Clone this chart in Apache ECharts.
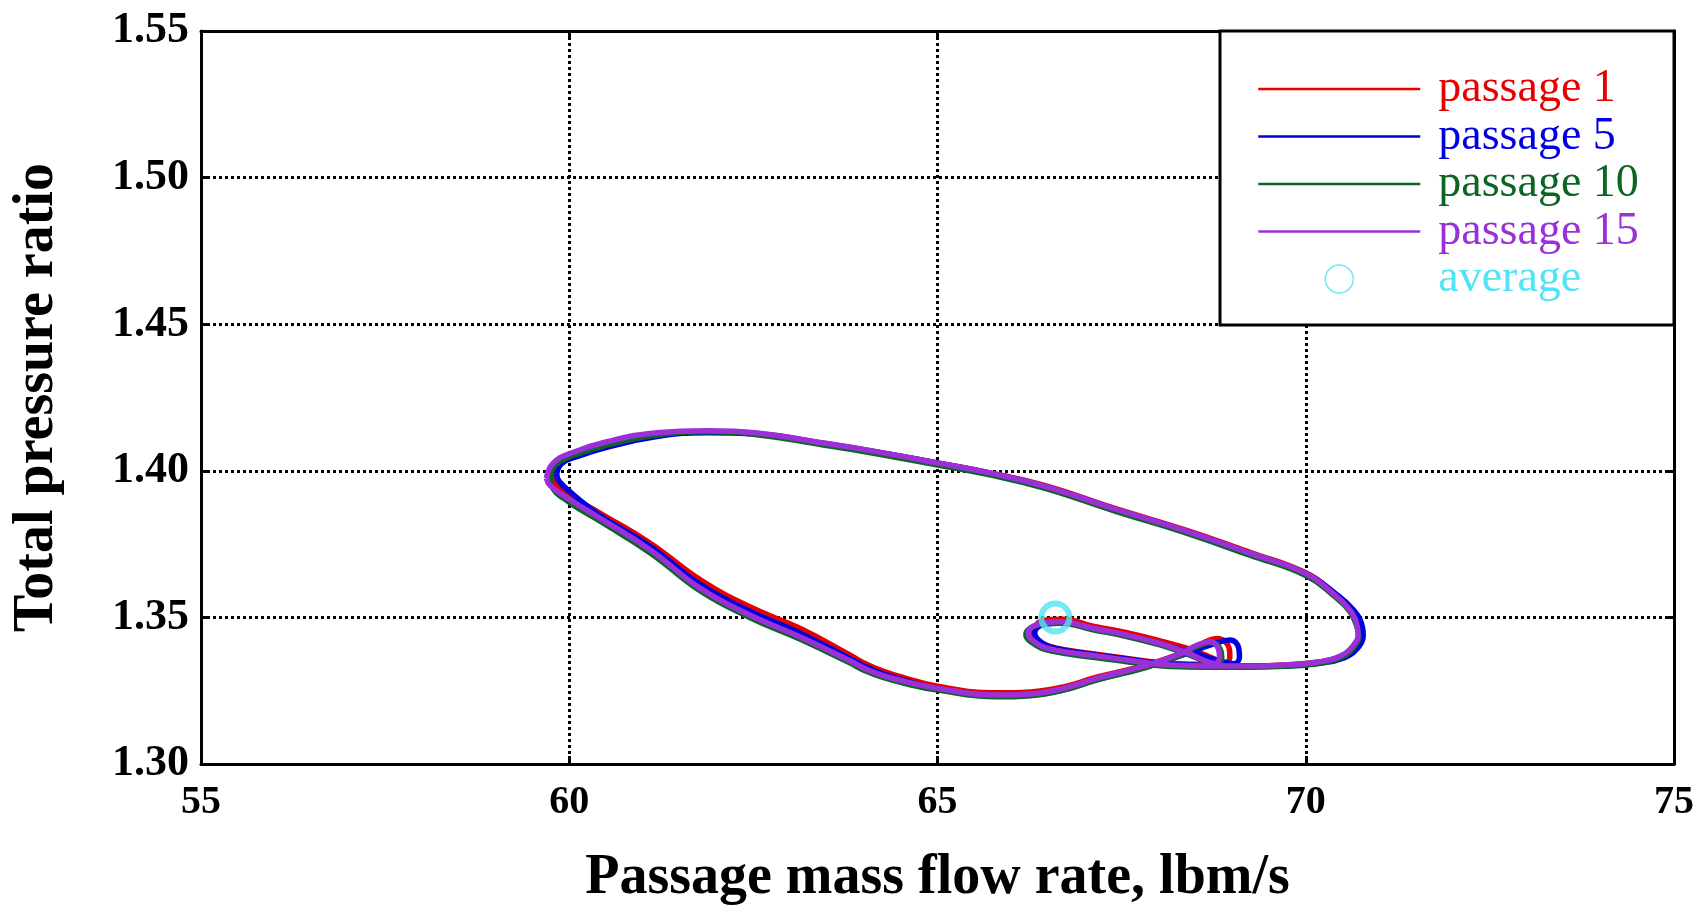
<!DOCTYPE html>
<html>
<head>
<meta charset="utf-8">
<script src="https://cdn.jsdelivr.net/npm/echarts@6/dist/echarts.min.js"></script>
<style>
html,body{margin:0;padding:0;background:#fff;}
#chart{width:1693px;height:906px;}
</style>
</head>
<body>
<div id="chart"></div>
<script>
// ---- data ----
const xTicks = [55, 60, 65, 70, 75];
const yTicks = [1.30, 1.35, 1.40, 1.45, 1.50, 1.55];

const p1x = [59.78,59.84,60.05,60.53,61.20,61.87,62.55,63.45,64.13,65.00,65.71,66.45,67.43,68.34,69.24,70.00,70.38,70.62,70.72,70.73,70.67,70.49,70.15,69.70,69.24,68.95,68.50,68.02,67.57,67.11,66.60,66.40,66.30,66.45,66.70,67.11,67.57,68.02,68.45,68.75,68.90,68.97,68.96,68.80,68.60,68.32,67.84,67.16,66.71,66.26,65.80,65.00,64.55,64.25,64.00,63.81,63.13,62.45,61.78,61.10,60.42,60.05,59.82,59.78];
const p1y = [1.3985,1.4022,1.4052,1.4092,1.4125,1.4133,1.4127,1.4094,1.4066,1.4027,1.3993,1.3950,1.3870,1.3800,1.3722,1.3652,1.3584,1.3525,1.3468,1.3440,1.3404,1.3367,1.3347,1.3338,1.3335,1.3336,1.3340,1.3346,1.3360,1.3376,1.3396,1.3416,1.3448,1.3490,1.3494,1.3470,1.3448,1.3420,1.3390,1.3360,1.3346,1.3365,1.3395,1.3428,1.3412,1.3378,1.3338,1.3296,1.3263,1.3246,1.3243,1.3265,1.3294,1.3318,1.3345,1.3372,1.3463,1.3536,1.3628,1.3753,1.3855,1.3910,1.3955,1.3985];

const p5x = [59.83,59.90,60.10,60.51,61.19,61.87,62.55,63.45,64.13,65.00,65.71,66.45,67.43,68.34,69.24,70.00,70.40,70.66,70.77,70.78,70.72,70.52,70.15,69.70,69.24,69.00,68.50,68.02,67.57,67.11,66.62,66.42,66.32,66.45,66.70,67.11,67.57,68.02,68.50,68.85,69.02,69.10,69.09,68.97,68.75,68.40,67.84,67.16,66.71,66.26,65.80,65.00,64.55,64.25,64.00,63.81,63.13,62.45,61.78,61.10,60.42,60.05,59.86,59.83];
const p5y = [1.3991,1.4025,1.4048,1.4080,1.4117,1.4130,1.4125,1.4093,1.4066,1.4026,1.3992,1.3947,1.3867,1.3797,1.3718,1.3650,1.3582,1.3522,1.3466,1.3438,1.3400,1.3362,1.3343,1.3335,1.3333,1.3334,1.3338,1.3343,1.3358,1.3373,1.3393,1.3413,1.3446,1.3476,1.3482,1.3461,1.3438,1.3410,1.3376,1.3350,1.3342,1.3365,1.3395,1.3423,1.3410,1.3378,1.3332,1.3288,1.3254,1.3236,1.3233,1.3256,1.3285,1.3308,1.3334,1.3360,1.3447,1.3521,1.3612,1.3742,1.3847,1.3920,1.3965,1.3991];

const p10x = [59.74,59.82,60.05,60.51,61.19,61.87,62.55,63.45,64.13,65.00,65.71,66.45,67.43,68.34,69.24,70.00,70.37,70.60,70.70,70.72,70.66,70.48,70.15,69.70,69.24,68.80,68.40,68.02,67.57,67.11,66.57,66.33,66.20,66.37,66.66,67.11,67.57,68.02,68.40,68.67,68.80,68.86,68.84,68.72,68.52,68.29,67.84,67.16,66.71,66.26,65.80,65.00,64.55,64.25,64.00,63.81,63.13,62.45,61.78,61.10,60.42,59.98,59.76,59.74];
const p10y = [1.3985,1.4022,1.4052,1.4088,1.4122,1.4133,1.4123,1.4088,1.4060,1.4020,1.3986,1.3941,1.3861,1.3791,1.3712,1.3643,1.3576,1.3520,1.3464,1.3436,1.3400,1.3362,1.3342,1.3333,1.3330,1.3330,1.3331,1.3335,1.3349,1.3364,1.3384,1.3406,1.3442,1.3474,1.3480,1.3458,1.3435,1.3406,1.3374,1.3346,1.3339,1.3362,1.3392,1.3414,1.3400,1.3370,1.3330,1.3286,1.3252,1.3233,1.3229,1.3252,1.3275,1.3296,1.3320,1.3345,1.3426,1.3500,1.3590,1.3720,1.3828,1.3896,1.3950,1.3985];

const p15x = [59.69,59.78,60.01,60.51,61.19,61.87,62.55,63.45,64.13,65.00,65.71,66.45,67.43,68.34,69.24,70.00,70.37,70.60,70.70,70.71,70.65,70.47,70.15,69.70,69.24,68.80,68.40,68.02,67.57,67.11,66.57,66.35,66.23,66.39,66.66,67.11,67.57,68.02,68.40,68.65,68.77,68.83,68.81,68.70,68.52,68.29,67.84,67.16,66.71,66.26,65.80,65.00,64.55,64.25,64.00,63.81,63.13,62.45,61.78,61.10,60.42,60.00,59.74,59.69];
const p15y = [1.3975,1.4025,1.4059,1.4099,1.4130,1.4137,1.4129,1.4095,1.4067,1.4027,1.3993,1.3948,1.3868,1.3798,1.3719,1.3650,1.3582,1.3525,1.3468,1.3440,1.3406,1.3368,1.3347,1.3338,1.3334,1.3334,1.3336,1.3340,1.3355,1.3370,1.3390,1.3411,1.3446,1.3478,1.3485,1.3463,1.3440,1.3411,1.3378,1.3350,1.3343,1.3365,1.3395,1.3417,1.3405,1.3375,1.3336,1.3292,1.3258,1.3239,1.3235,1.3258,1.3282,1.3302,1.3327,1.3352,1.3434,1.3508,1.3599,1.3730,1.3838,1.3903,1.3950,1.3975];

const avgX = [66.6];
const avgY = [1.3500];

const seriesNames = ['passage 1', 'passage 5', 'passage 10', 'passage 15', 'average'];
const seriesColors = ['#e60000', '#0000e0', '#0b6623', '#9b30d9', '#50e4f4'];

// ---- chart ----
const zip = (xs, ys) => xs.map((x, i) => [x, ys[i]]);
const FONT = "'Liberation Serif', 'Times New Roman', serif";

const lineSets = [[p1x, p1y], [p5x, p5y], [p10x, p10y], [p15x, p15y]];
const series = lineSets.map((s, i) => ({
  name: seriesNames[i],
  type: 'line',
  data: zip(s[0], s[1]),
  smooth: 0.45,
  symbol: 'none',
  showSymbol: false,
  lineStyle: { color: seriesColors[i], width: 5.5 },
  itemStyle: { color: seriesColors[i] },
  z: 2
}));
series.push({
  name: seriesNames[4],
  type: 'scatter',
  data: zip(avgX, avgY),
  symbol: 'circle',
  symbolSize: 28,
  itemStyle: { color: 'rgba(0,0,0,0)', borderColor: seriesColors[4], borderWidth: 6 },
  z: 3
});

const axisLineStyle = { color: '#000', width: 3 };
const gridLine = { show: true, showMinLine: false, showMaxLine: false, lineStyle: { color: '#000', width: 3, type: [3, 3] } };

const option = {
  animation: false,
  backgroundColor: '#fff',
  grid: { left: 201, right: 19, top: 31, bottom: 142, outerBoundsMode: 'none', containLabel: false },
  xAxis: [{
    type: 'value', position: 'bottom',
    min: xTicks[0], max: xTicks[xTicks.length - 1], interval: 5,
    name: 'Passage mass flow rate, lbm/s', nameLocation: 'middle', nameGap: 87,
    nameTextStyle: { fontFamily: FONT, fontWeight: 'bold', fontSize: 56, color: '#000' },
    axisLine: { show: true, onZero: false, lineStyle: axisLineStyle },
    axisTick: { show: true, inside: true, length: 8, lineStyle: axisLineStyle },
    axisLabel: { show: true, margin: 19, fontFamily: FONT, fontWeight: 'bold', fontSize: 40, color: '#000' },
    splitLine: gridLine
  }, {
    type: 'value', position: 'top',
    min: xTicks[0], max: xTicks[xTicks.length - 1], interval: 5,
    axisLine: { show: true, onZero: false, lineStyle: axisLineStyle },
    axisTick: { show: true, inside: true, length: 8, lineStyle: axisLineStyle },
    axisLabel: { show: false },
    splitLine: { show: false }
  }],
  yAxis: [{
    type: 'value', position: 'left',
    min: yTicks[0], max: yTicks[yTicks.length - 1], interval: 0.05,
    name: 'Total pressure ratio', nameLocation: 'middle', nameGap: 135,
    nameTextStyle: { fontFamily: FONT, fontWeight: 'bold', fontSize: 56, color: '#000' },
    axisLine: { show: true, onZero: false, lineStyle: axisLineStyle },
    axisTick: { show: true, inside: true, length: 8, lineStyle: axisLineStyle },
    axisLabel: { show: true, margin: 12, fontFamily: FONT, fontWeight: 'bold', fontSize: 44, color: '#000',
      formatter: v => v.toFixed(2) },
    splitLine: gridLine
  }, {
    type: 'value', position: 'right',
    min: yTicks[0], max: yTicks[yTicks.length - 1], interval: 0.05,
    axisLine: { show: true, onZero: false, lineStyle: axisLineStyle },
    axisTick: { show: true, inside: true, length: 8, lineStyle: axisLineStyle },
    axisLabel: { show: false },
    splitLine: { show: false }
  }],
  graphic: [{
    type: 'rect', z: 3,
    shape: { x: 1220, y: 31, width: 454, height: 294 },
    style: { fill: '#fff', stroke: '#000', lineWidth: 3 }
  }],
  legend: {
    orient: 'vertical', left: 1257, top: 66, padding: 0,
    itemWidth: 162, itemHeight: 28, itemGap: 1.5,
    selectedMode: false, z: 5,
    lineStyle: { width: 2.5 },
    textStyle: { fontFamily: FONT, fontSize: 46, lineHeight: 46, padding: [0, 0, 0, 13] },
    data: seriesNames.map((n, i) => {
      const d = { name: n, textStyle: { color: seriesColors[i] } };
      if (i === 4) {
        d.icon = 'circle';
        d.itemStyle = { color: 'rgba(0,0,0,0)', borderColor: seriesColors[4], borderWidth: 1.5 };
      } else {
        d.itemStyle = { opacity: 0 };
      }
      return d;
    })
  },
  series: series
};

const chart = echarts.init(document.getElementById('chart'), null, { renderer: 'canvas' });
chart.setOption(option);
</script>
</body>
</html>
